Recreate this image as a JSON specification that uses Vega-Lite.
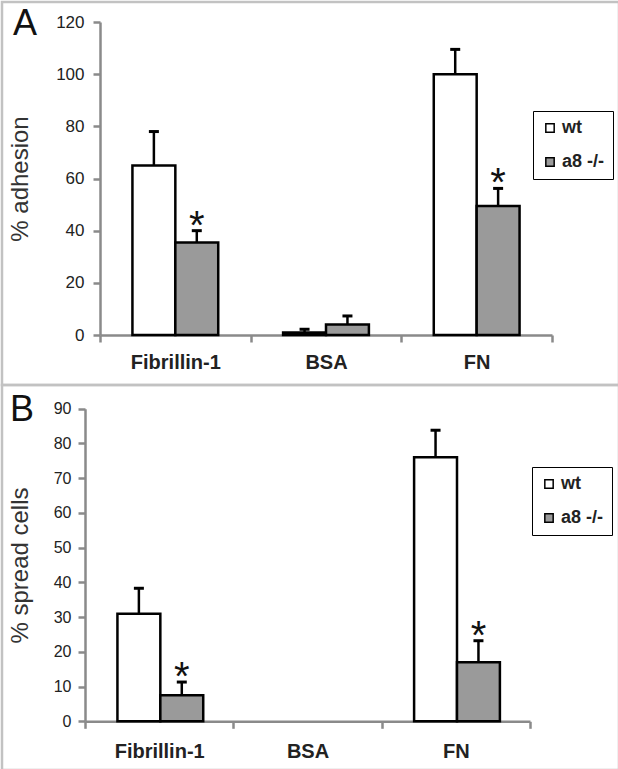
{
  "$schema": "https://vega.github.io/schema/vega-lite/v6.json",
  "padding": 0,
  "spacing": 0,
  "bounds": "flush",
  "background": "white",
  "config": {
    "font": "Liberation Sans",
    "view": {"stroke": "#c2c2c2", "strokeWidth": 2.5},
    "axis": {"grid": false, "domainColor": "#8a8a8a", "domainWidth": 2.5, "tickColor": "#8a8a8a", "tickWidth": 2.5, "labelColor": "#222222", "titleColor": "#333333", "labelFont": "Liberation Sans", "titleFont": "Liberation Sans"},
    "legend": {"strokeColor": "black", "padding": 8, "labelFontSize": 18, "labelFontWeight": "bold", "labelColor": "#222222", "symbolType": "square", "symbolSize": 70, "symbolStrokeColor": "black", "symbolStrokeWidth": 1.5, "rowPadding": 16, "labelOffset": 3},
    "title": {"font": "Liberation Sans", "fontSize": 36, "fontWeight": "normal", "anchor": "start", "frame": "group", "baseline": "top", "offset": 0, "color": "#111111"}
  },
  "datasets": {
    "A": [
      {"substrate": "Fibrillin-1", "group": "wt", "value": 65, "err": 78, "sig": ""},
      {"substrate": "Fibrillin-1", "group": "a8 -/-", "value": 35.5, "err": 40, "sig": "*"},
      {"substrate": "BSA", "group": "wt", "value": 1, "err": 2.2, "sig": ""},
      {"substrate": "BSA", "group": "a8 -/-", "value": 4, "err": 7.3, "sig": ""},
      {"substrate": "FN", "group": "wt", "value": 100, "err": 109.5, "sig": ""},
      {"substrate": "FN", "group": "a8 -/-", "value": 49.5, "err": 56.2, "sig": "*"}
    ],
    "B": [
      {"substrate": "Fibrillin-1", "group": "wt", "value": 31, "err": 38.3, "sig": ""},
      {"substrate": "Fibrillin-1", "group": "a8 -/-", "value": 7.5, "err": 11.3, "sig": "*"},
      {"substrate": "BSA", "group": "wt", "value": 0, "err": 0, "sig": ""},
      {"substrate": "BSA", "group": "a8 -/-", "value": 0, "err": 0, "sig": ""},
      {"substrate": "FN", "group": "wt", "value": 76, "err": 83.8, "sig": ""},
      {"substrate": "FN", "group": "a8 -/-", "value": 17, "err": 23.2, "sig": "*"}
    ]
  },
  "resolve": {"scale": {"fill": "independent"}, "legend": {"fill": "independent"}},
  "vconcat": [
    {
      "width": 617,
      "height": 383,
      "title": {"text": "A", "dx": 11, "dy": 45},
      "data": {"name": "A"},
      "encoding": {
        "x": {"field": "substrate", "type": "nominal", "sort": ["Fibrillin-1", "BSA", "FN"],
              "scale": {"domain": ["Fibrillin-1", "BSA", "FN"], "range": [98, 550], "paddingInner": 0, "paddingOuter": 0},
              "axis": {"title": null, "offset": -50, "labelAngle": 0, "labelFontSize": 20, "labelFontWeight": "bold", "labelPadding": 10, "tickSize": 7, "tickBand": "extent"}},
        "xOffset": {"field": "group", "type": "nominal", "sort": ["wt", "a8 -/-"], "scale": {"domain": ["wt", "a8 -/-"], "paddingInner": 0, "paddingOuter": 0.756}}
      },
      "layer": [
        {
          "mark": {"type": "rule", "color": "black", "strokeWidth": 2.5},
          "transform": [{"filter": "datum.err > datum.value"}],
          "encoding": {
            "y": {"field": "value", "type": "quantitative", "scale": {"domain": [0, 120], "range": [333, 20], "nice": false}},
            "y2": {"field": "err"}
          }
        },
        {
          "mark": {"type": "tick", "color": "black", "size": 10, "thickness": 3, "opacity": 1},
          "transform": [{"filter": "datum.err > datum.value"}],
          "encoding": {"y": {"field": "err", "type": "quantitative"}}
        },
        {
          "mark": {"type": "bar", "stroke": "black", "strokeWidth": 2.5, "strokeJoin": "miter"},
          "transform": [{"filter": "datum.value > 0"}],
          "encoding": {
            "y": {"field": "value", "type": "quantitative",
                  "axis": {"title": "% adhesion", "offset": -98, "values": [0, 20, 40, 60, 80, 100, 120], "labelFontSize": 17, "labelPadding": 9, "tickSize": 7, "titleFontSize": 24, "titleFontWeight": "normal", "titleAngle": 270, "titleBaseline": "middle", "titleX": -80}},
            "fill": {"field": "group", "type": "nominal", "sort": ["wt", "a8 -/-"],
                     "scale": {"domain": ["wt", "a8 -/-"], "range": ["#ffffff", "#9a9a9a"]},
                     "legend": {"title": null, "orient": "none", "legendX": 531, "legendY": 109}}
          }
        },
        {
          "mark": {"type": "text", "fontSize": 40, "baseline": "alphabetic", "dy": 8, "color": "#111111"},
          "encoding": {"y": {"field": "err", "type": "quantitative"}, "text": {"field": "sig"}}
        }
      ]
    },
    {
      "width": 617,
      "height": 385,
      "title": {"text": "B", "dx": 8, "dy": 48},
      "data": {"name": "B"},
      "encoding": {
        "x": {"field": "substrate", "type": "nominal", "sort": ["Fibrillin-1", "BSA", "FN"],
              "scale": {"domain": ["Fibrillin-1", "BSA", "FN"], "range": [83, 528], "paddingInner": 0, "paddingOuter": 0},
              "axis": {"title": null, "offset": -48.7, "labelAngle": 0, "labelFontSize": 20, "labelFontWeight": "bold", "labelPadding": 13, "tickSize": 7, "tickBand": "extent"}},
        "xOffset": {"field": "group", "type": "nominal", "sort": ["wt", "a8 -/-"], "scale": {"domain": ["wt", "a8 -/-"], "paddingInner": 0, "paddingOuter": 0.725}}
      },
      "layer": [
        {
          "mark": {"type": "rule", "color": "black", "strokeWidth": 2.5},
          "transform": [{"filter": "datum.err > datum.value"}],
          "encoding": {
            "y": {"field": "value", "type": "quantitative", "scale": {"domain": [0, 90], "range": [336.3, 23.7], "nice": false}},
            "y2": {"field": "err"}
          }
        },
        {
          "mark": {"type": "tick", "color": "black", "size": 10, "thickness": 3, "opacity": 1},
          "transform": [{"filter": "datum.err > datum.value"}],
          "encoding": {"y": {"field": "err", "type": "quantitative"}}
        },
        {
          "mark": {"type": "bar", "stroke": "black", "strokeWidth": 2.5, "strokeJoin": "miter"},
          "transform": [{"filter": "datum.value > 0"}],
          "encoding": {
            "y": {"field": "value", "type": "quantitative",
                  "axis": {"title": "% spread cells", "offset": -83, "values": [0, 10, 20, 30, 40, 50, 60, 70, 80, 90], "labelFontSize": 16, "labelPadding": 7, "tickSize": 7, "titleFontSize": 24, "titleFontWeight": "normal", "titleAngle": 270, "titleBaseline": "middle", "titleX": -65}},
            "fill": {"field": "group", "type": "nominal", "sort": ["wt", "a8 -/-"],
                     "scale": {"domain": ["wt", "a8 -/-"], "range": ["#ffffff", "#9a9a9a"]},
                     "legend": {"title": null, "orient": "none", "legendX": 530, "legendY": 82}}
          }
        },
        {
          "mark": {"type": "text", "fontSize": 40, "baseline": "alphabetic", "dy": 8, "color": "#111111"},
          "encoding": {"y": {"field": "err", "type": "quantitative"}, "text": {"field": "sig"}}
        }
      ]
    }
  ]
}
